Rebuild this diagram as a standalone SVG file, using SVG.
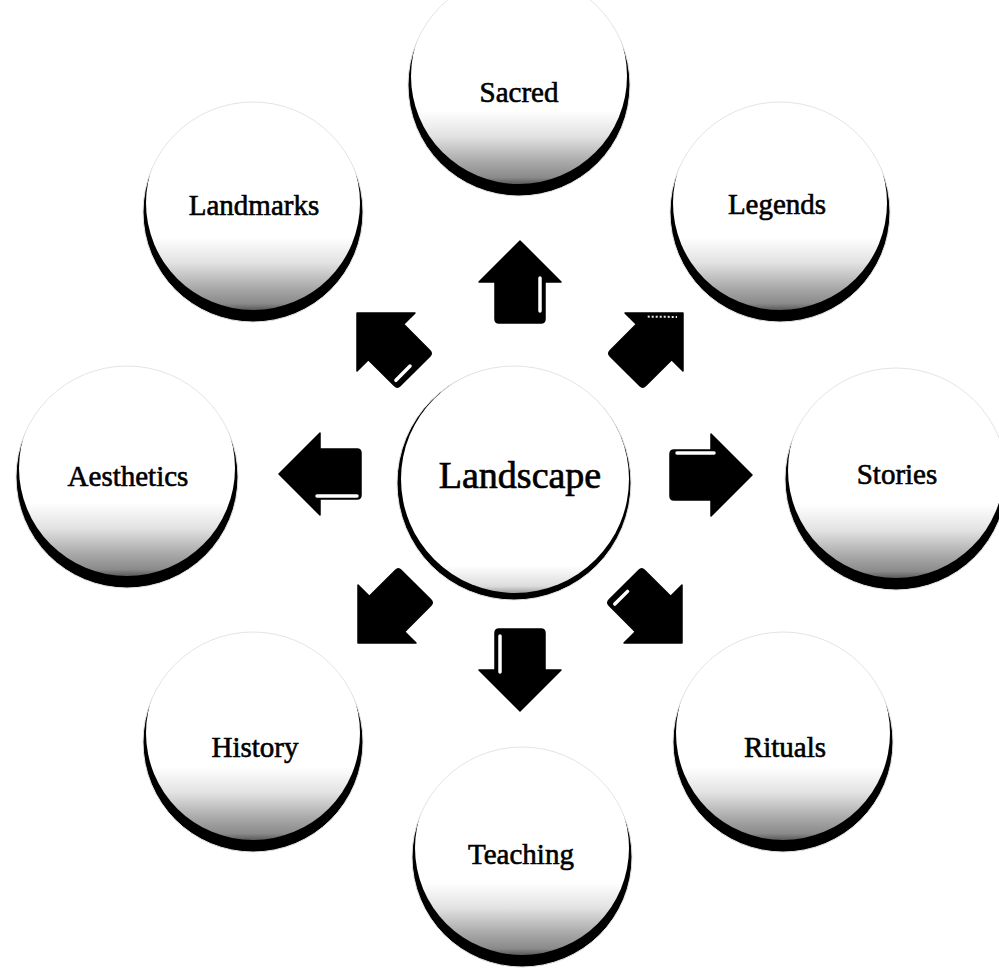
<svg xmlns="http://www.w3.org/2000/svg" width="999" height="968" viewBox="0 0 999 968">
<defs>
<linearGradient id="ball" x1="0" y1="0" x2="0" y2="1">
<stop offset="0" stop-color="#ffffff"/>
<stop offset="0.66" stop-color="#ffffff"/>
<stop offset="0.78" stop-color="#e2e2e2"/>
<stop offset="0.9" stop-color="#a8a8a8"/>
<stop offset="0.97" stop-color="#8a8a8a"/>
<stop offset="1" stop-color="#5a5a5a"/>
</linearGradient>
<linearGradient id="hub" x1="0" y1="0" x2="0" y2="1">
<stop offset="0" stop-color="#ffffff"/>
<stop offset="0.88" stop-color="#ffffff"/>
<stop offset="0.97" stop-color="#dcdcdc"/>
<stop offset="1" stop-color="#a0a0a0"/>
</linearGradient>
<path id="arr" d="M -41,-21 Q -41,-25 -37,-25 H 0 V -41 L 41,0 L 0,41 V 25 H -37 Q -41,25 -41,21 Z"/>
</defs>
<style>
.rim{fill:#000}
.face{fill:url(#ball)}
.edge{fill:none;stroke:#e4e4e4;stroke-width:1}
.lbl{font-family:"Liberation Serif","Times New Roman",serif;font-size:29px;fill:#000;stroke:#000;stroke-width:0.6;text-anchor:middle}
.big{font-size:38px;stroke-width:0.7}
.arrow{fill:#000;stroke:#000;stroke-width:1.5;stroke-linejoin:round}
.hl{fill:none;stroke:#fff;stroke-width:3.5;stroke-linecap:round}
.hld{fill:none;stroke:#e8e8e8;stroke-width:2;stroke-dasharray:2 2}
</style>
<rect width="999" height="968" fill="#fff"/>

<g id="node-sacred">
<circle class="rim" cx="519" cy="85" r="111"/>
<circle class="face" cx="519" cy="76" r="108"/>
<circle class="edge" cx="519" cy="85" r="111"/>
<text class="lbl" x="519" y="102">Sacred</text>
</g>
<g id="node-landmarks">
<circle class="rim" cx="253" cy="212" r="110"/>
<circle class="face" cx="253" cy="203" r="107"/>
<circle class="edge" cx="253" cy="212" r="110"/>
<text class="lbl" x="254" y="215">Landmarks</text>
</g>
<g id="node-legends">
<circle class="rim" cx="780" cy="212" r="110"/>
<circle class="face" cx="780" cy="203" r="107"/>
<circle class="edge" cx="780" cy="212" r="110"/>
<text class="lbl" x="777" y="214">Legends</text>
</g>
<g id="node-aesthetics">
<circle class="rim" cx="127" cy="477" r="111"/>
<circle class="face" cx="127" cy="468" r="108"/>
<circle class="edge" cx="127" cy="477" r="111"/>
<text class="lbl" x="128" y="486">Aesthetics</text>
</g>
<g id="node-stories">
<circle class="rim" cx="896" cy="479" r="111"/>
<circle class="face" cx="896" cy="470" r="108"/>
<circle class="edge" cx="896" cy="479" r="111"/>
<text class="lbl" x="897" y="484">Stories</text>
</g>
<g id="node-history">
<circle class="rim" cx="253" cy="742" r="110"/>
<circle class="face" cx="253" cy="733" r="107"/>
<circle class="edge" cx="253" cy="742" r="110"/>
<text class="lbl" x="255" y="757">History</text>
</g>
<g id="node-rituals">
<circle class="rim" cx="783" cy="742" r="110"/>
<circle class="face" cx="783" cy="733" r="107"/>
<circle class="edge" cx="783" cy="742" r="110"/>
<text class="lbl" x="785" y="757">Rituals</text>
</g>
<g id="node-teaching">
<circle class="rim" cx="522" cy="857" r="110"/>
<circle class="face" cx="522" cy="848" r="107"/>
<circle class="edge" cx="522" cy="857" r="110"/>
<text class="lbl" x="521" y="864">Teaching</text>
</g>
<g id="node-landscape">
<circle class="rim" cx="514" cy="483" r="117"/>
<circle cx="515" cy="479" r="114" fill="url(#hub)"/>
<circle class="edge" cx="514" cy="483" r="117"/>
<text class="lbl big" x="520" y="488">Landscape</text>
</g>

<g id="connectors">
<g transform="translate(520,282) rotate(-90)">
<use href="#arr" class="arrow"/>
<line class="hl" x1="-29" y1="20" x2="4" y2="20"/>
</g>
<g transform="translate(520,670) rotate(90)">
<use href="#arr" class="arrow"/>
<line class="hl" x1="-34" y1="20" x2="2" y2="20"/>
</g>
<g transform="translate(320,474) rotate(180)">
<use href="#arr" class="arrow"/>
<line class="hl" x1="-37" y1="-22" x2="3" y2="-22"/>
</g>
<g transform="translate(711,475)">
<use href="#arr" class="arrow"/>
<line class="hl" x1="-34" y1="-22" x2="3" y2="-22"/>
</g>
<g transform="translate(386,342) rotate(225)">
<use href="#arr" class="arrow"/>
<line class="hl" x1="-34" y1="-20" x2="-34" y2="0"/>
</g>
<g transform="translate(654,342) rotate(-45)">
<use href="#arr" class="arrow"/>
<line class="hld" x1="13.5" y1="-22.4" x2="34" y2="-1.4"/>
</g>
<g transform="translate(387,614) rotate(135)">
<use href="#arr" class="arrow"/>
</g>
<g transform="translate(653,614) rotate(45)">
<use href="#arr" class="arrow"/>
<line class="hl" x1="-34" y1="2" x2="-34" y2="20"/>
</g>
</g>
</svg>
